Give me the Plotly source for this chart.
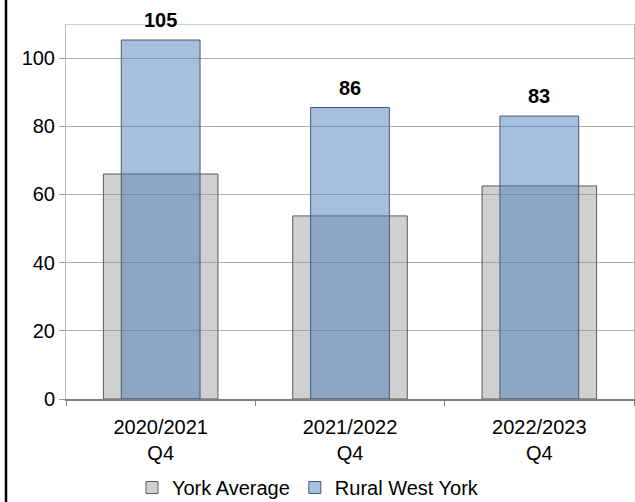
import plotly.graph_objects as go

categories = ["2020/2021<br>Q4", "2021/2022<br>Q4", "2022/2023<br>Q4"]
york_average = [66.0, 53.7, 62.5]
rural_west_york = [105.3, 85.5, 83.0]
label_values = [105, 86, 83]
y_ticks = [0, 20, 40, 60, 80, 100]

FONT = "Liberation Sans, Arial, sans-serif"

fig = go.Figure()
fig.add_trace(go.Bar(
    x=categories, y=york_average, name="York Average", width=0.605,
    marker=dict(color="rgba(150,150,150,0.45)", line=dict(color="#5a5a5a", width=1)),
))
fig.add_trace(go.Bar(
    x=categories, y=rural_west_york, name="Rural West York", width=0.416,
    marker=dict(color="rgba(68,119,187,0.47)", line=dict(color="#4a5a70", width=1)),
))

for c, v, lab in zip(categories, rural_west_york, label_values):
    fig.add_annotation(x=c, y=v, text=f"<b>{lab}</b>", showarrow=False,
                       yanchor="bottom", yshift=7,
                       font=dict(family=FONT, size=20, color="#000"))

# plot-area top border and left black frame line
fig.add_shape(type="line", xref="paper", yref="y", x0=0, x1=1, y0=110, y1=110,
              line=dict(color="#c0c0c0", width=1.5), layer="below")
fig.add_shape(type="line", xref="paper", yref="paper",
              x0=(6 - 66) / 568, x1=(6 - 66) / 568, y0=-103 / 375, y1=24 / 375 + 1,
              line=dict(color="#000", width=2.5))

fig.update_layout(
    barmode="overlay",
    width=635, height=502,
    margin=dict(l=66, r=1, t=24, b=103, autoexpand=False),
    paper_bgcolor="white", plot_bgcolor="white",
    font=dict(family=FONT, size=20, color="#000"),
    showlegend=True,
    legend=dict(orientation="h", x=0.426, xanchor="center", y=-0.236, yanchor="middle",
                font=dict(size=20), itemwidth=30, traceorder="normal"),
)
fig.update_xaxes(
    type="category", range=[-0.5, 2.5], showline=True, linecolor="#808080", linewidth=1.5,
    ticks="outside", tickson="boundaries", ticklen=5, tickcolor="#808080",
    showgrid=False, tickfont=dict(size=20), ticklabelstandoff=9,
)
fig.update_yaxes(
    range=[0, 110], tickvals=y_ticks, showgrid=True, gridcolor="#b0b0b0", gridwidth=1,
    showline=True, linecolor="#b8b8b8", linewidth=1, mirror=True,
    ticks="outside", ticklen=6, tickcolor="#999999", zeroline=False,
    tickfont=dict(size=20),
)

fig.write_html("out.html", config={"displayModeBar": False},
               post_script="document.body.style.margin='0';")
